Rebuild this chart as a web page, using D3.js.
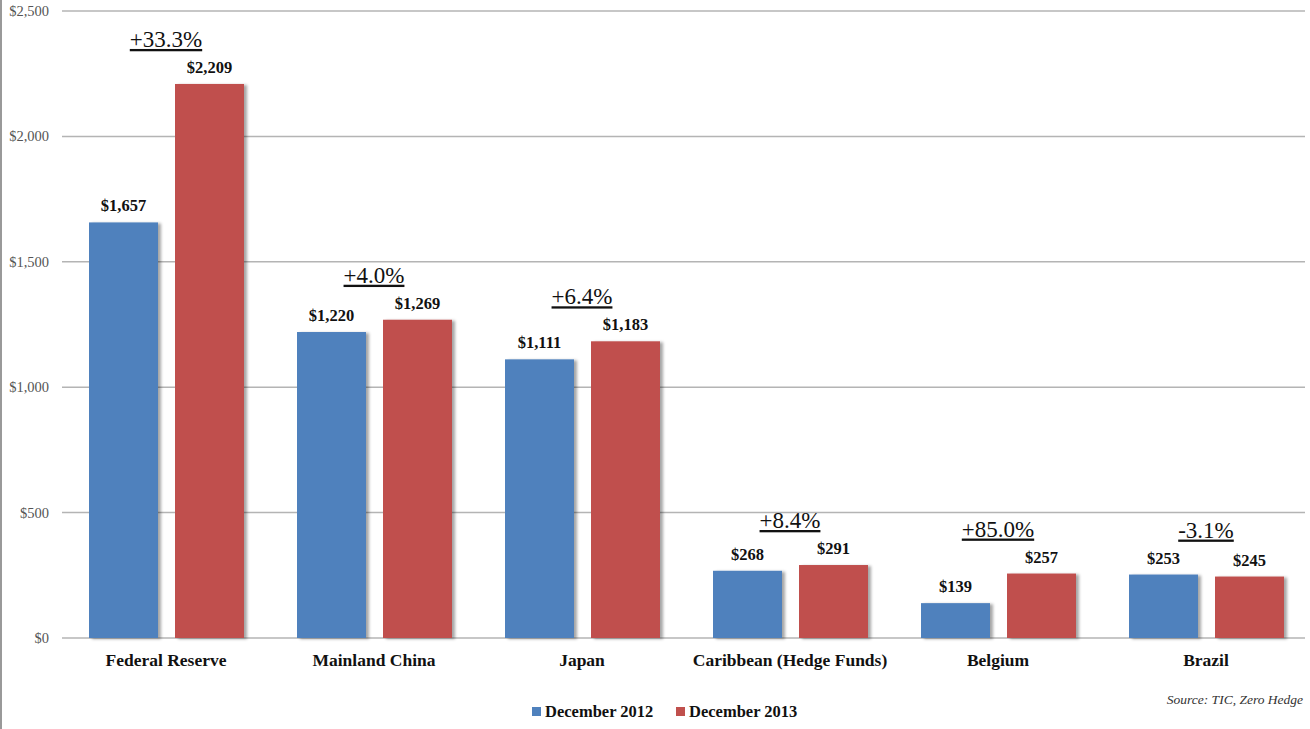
<!DOCTYPE html>
<html>
<head>
<meta charset="utf-8">
<script src="https://cdn.jsdelivr.net/npm/d3@7"></script>
<style>
  body { margin: 0; background: #fff; }
  svg { display: block; }
</style>
</head>
<body>
<div id="chart"></div>
<script>
// data
var categories = ["Federal Reserve", "Mainland China", "Japan", "Caribbean (Hedge Funds)", "Belgium", "Brazil"];
var dec2012 = [1657, 1220, 1111, 268, 139, 253];
var dec2013 = [2209, 1269, 1183, 291, 257, 245];
var changeLabels = ["+33.3%", "+4.0%", "+6.4%", "+8.4%", "+85.0%", "-3.1%"];
var seriesNames = ["December 2012", "December 2013"];
var yTicks = [0, 500, 1000, 1500, 2000, 2500];

var w = 1310, h = 729;
var colors = ["#4F81BD", "#C0504D"];
var serif = "'Liberation Serif', 'DejaVu Serif', serif";

var svg = d3.select("#chart").append("svg")
  .attr("width", w)
  .attr("height", h);

var defs = svg.append("defs");
var f = defs.append("filter").attr("id", "shadow")
  .attr("x", "-10%").attr("y", "-10%").attr("width", "130%").attr("height", "120%");
f.append("feDropShadow")
  .attr("dx", 3).attr("dy", 1).attr("stdDeviation", 1.5)
  .attr("flood-color", "#000").attr("flood-opacity", 0.35);

// left border
svg.append("line")
  .attr("x1", 1).attr("x2", 1).attr("y1", 0).attr("y2", h)
  .attr("stroke", "#999").attr("stroke-width", 2);

var x = d3.scaleBand().domain(categories).range([62, 1310]).paddingInner(0).paddingOuter(0);
var y = d3.scaleLinear().domain([0, 2500]).range([638, 11]);

// gridlines
svg.append("g").selectAll("line")
  .data(yTicks)
  .enter().append("line")
  .attr("x1", 62).attr("x2", 1305)
  .attr("y1", function(d) { return y(d); })
  .attr("y2", function(d) { return y(d); })
  .attr("stroke", "#b4b4b4")
  .attr("stroke-width", 1.5);

// y tick labels
svg.append("g").selectAll("text")
  .data(yTicks)
  .enter().append("text")
  .attr("x", 49)
  .attr("y", function(d) { return y(d) + 5; })
  .attr("text-anchor", "end")
  .attr("font-family", serif)
  .attr("font-size", 14.5)
  .attr("fill", "#555")
  .text(function(d) { return "$" + d3.format(",")(d); });

var inner = d3.scaleBand().domain([0, 1]).range([27, 182])
  .paddingInner(17 / 86).paddingOuter(0);

var groups = svg.append("g").selectAll("g")
  .data(categories)
  .enter().append("g")
  .attr("transform", function(d) { return "translate(" + x(d) + ",0)"; });

var series = [dec2012, dec2013];

groups.each(function(cat, i) {
  var g = d3.select(this);
  series.forEach(function(vals, s) {
    var v = vals[i];
    g.append("rect")
      .attr("x", inner(s))
      .attr("y", y(v))
      .attr("width", inner.bandwidth())
      .attr("height", y(0) - y(v))
      .attr("fill", colors[s])
      .attr("filter", "url(#shadow)");
    g.append("text")
      .attr("x", inner(s) + inner.bandwidth() / 2)
      .attr("y", y(v) - 11)
      .attr("text-anchor", "middle")
      .attr("font-family", serif)
      .attr("font-weight", "bold")
      .attr("font-size", 16.5)
      .attr("fill", "#111")
      .text("$" + d3.format(",")(v));
  });
  var top = Math.max(dec2012[i], dec2013[i]);
  g.append("text")
    .attr("x", 104)
    .attr("y", y(top) - 37)
    .attr("text-anchor", "middle")
    .attr("font-family", serif)
    .attr("font-size", 23)
    .attr("text-decoration", "underline")
    .attr("fill", "#111")
    .text(changeLabels[i]);
  g.append("text")
    .attr("x", 104)
    .attr("y", 666)
    .attr("text-anchor", "middle")
    .attr("font-family", serif)
    .attr("font-weight", "bold")
    .attr("font-size", 17.5)
    .attr("fill", "#111")
    .text(cat);
});

// legend
var legX = [532, 676];
var legend = svg.append("g").selectAll("g")
  .data(seriesNames)
  .enter().append("g")
  .attr("transform", function(d, i) { return "translate(" + legX[i] + ",707)"; });
legend.append("rect")
  .attr("width", 9).attr("height", 9)
  .attr("fill", function(d, i) { return colors[i]; });
legend.append("text")
  .attr("x", 13).attr("y", 10)
  .attr("font-family", serif)
  .attr("font-weight", "bold")
  .attr("font-size", 16.5)
  .attr("fill", "#111")
  .text(function(d) { return d; });

svg.append("text")
  .attr("x", 1303).attr("y", 704)
  .attr("text-anchor", "end")
  .attr("font-family", serif)
  .attr("font-style", "italic")
  .attr("font-size", 13.5)
  .attr("fill", "#333")
  .text("Source: TIC, Zero Hedge");
</script>
</body>
</html>
